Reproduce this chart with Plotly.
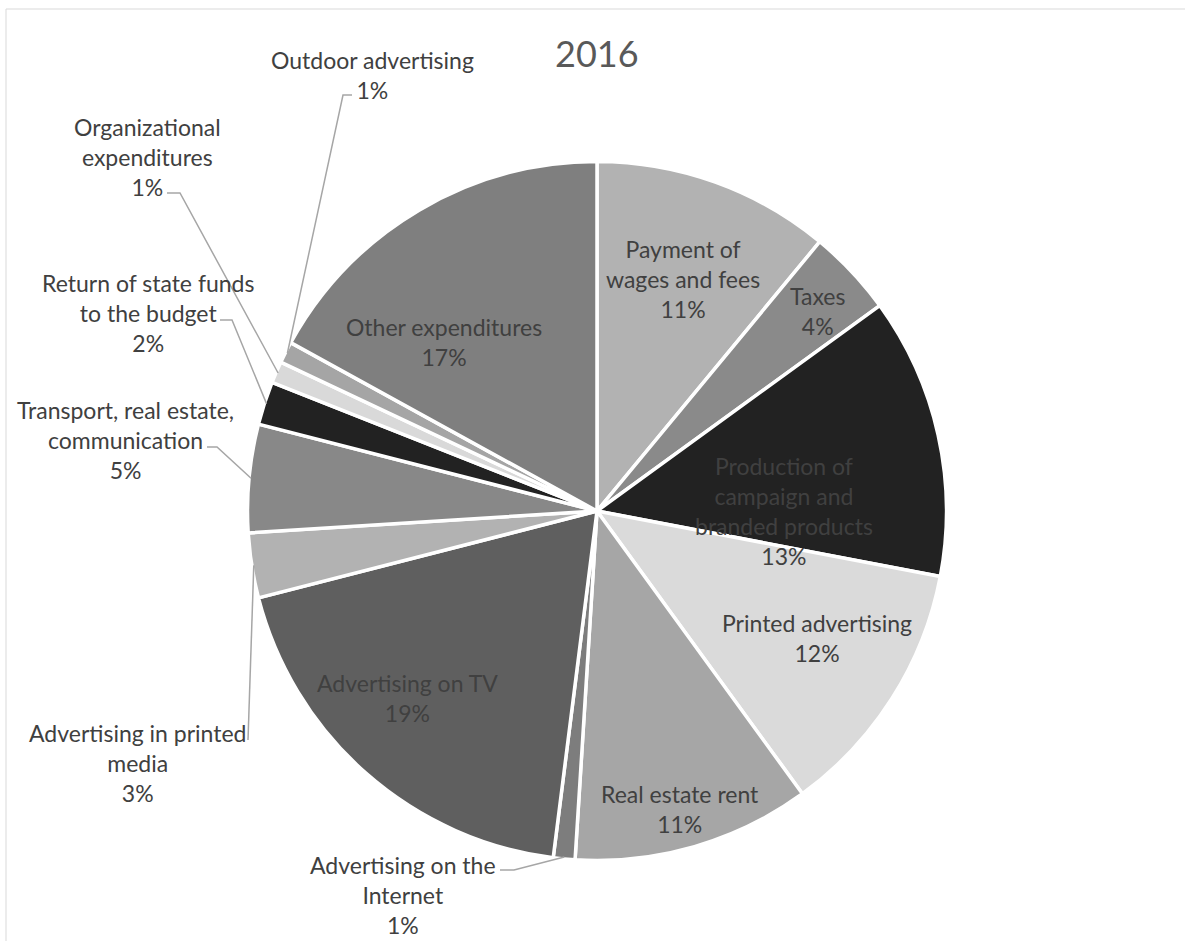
import math
import plotly.graph_objects as go

# Expenditure structure, 2016 (share of total, %)
categories = [
    "Payment of<br>wages and fees",
    "Taxes",
    "Production of<br>campaign and<br>branded products",
    "Printed advertising",
    "Real estate rent",
    "Advertising on the<br>Internet",
    "Advertising on TV",
    "Advertising in printed<br>media",
    "Transport, real estate,<br>communication",
    "Return of state funds<br>to the budget",
    "Organizational<br>expenditures",
    "Outdoor advertising",
    "Other expenditures",
]
shares = [11, 4, 13, 12, 11, 1, 19, 3, 5, 2, 1, 1, 17]
slice_colors = [
    "#b2b2b2", "#8a8a8a", "#222222", "#dadada", "#a6a6a6", "#7d7d7d",
    "#5f5f5f", "#b2b2b2", "#888888", "#222222", "#d9d9d9", "#a5a5a5", "#7f7f7f",
]

W, H = 1185, 941
CX, CY, R = 597, 511, 349.5  # pie centre and radius in pixels

# Label centres (px) for every slice, and leader-line elbows for outside labels
label_pos = [
    (683, 279), (817, 311), (784, 511), (817, 638), (680, 809), (403, 895),
    (407, 698), (138, 763), (125, 440), (148, 313), (147, 157), (372, 75), (444, 342),
]
leader = {
    5: [(514, 870), (500, 870)],
    7: [(248, 740)],
    8: [(217, 447), (207, 447)],
    9: [(232, 320), (220, 320)],
    10: [(180, 193), (167, 193)],
    11: [(343, 95), (352, 95)],
}


def px(x):
    return x / W


def py(y):
    return 1 - y / H


fig = go.Figure(
    go.Pie(
        labels=[c.replace("<br>", " ") for c in categories],
        values=shares,
        sort=False,
        direction="clockwise",
        rotation=0,
        marker=dict(colors=slice_colors, line=dict(color="white", width=3.5)),
        textinfo="none",
        hoverinfo="skip",
        showlegend=False,
        domain=dict(x=[px(CX - R), px(CX + R)], y=[py(CY + R), py(CY - R)]),
    )
)

total = sum(shares)
annotations = []
shapes = []
cum = 0
for i, (name, v) in enumerate(zip(categories, shares)):
    mid = (cum + v / 2) / total * 2 * math.pi
    cum += v
    pct = f"{round(v / total * 100)}%"
    lx, ly = label_pos[i]
    annotations.append(dict(
        x=px(lx), y=py(ly), xref="paper", yref="paper",
        text=f"{name}<br>{pct}", showarrow=False,
        xanchor="center", yanchor="middle", align="center",
        font=dict(family="Lato", size=23, color="#404040"),
    ))
    if i in leader:
        ex = CX + (R - 2) * math.sin(mid)
        ey = CY - (R - 2) * math.cos(mid)
        pts = [(ex, ey)] + leader[i]
        path = "M " + " L ".join(f"{px(a):.5f},{py(b):.5f}" for a, b in pts)
        shapes.append(dict(type="path", path=path, xref="paper", yref="paper",
                           line=dict(color="#a6a6a6", width=1.5)))

annotations.append(dict(
    x=px(597), y=py(53), xref="paper", yref="paper", text="2016",
    showarrow=False, xanchor="center", yanchor="middle",
    font=dict(family="Lato", size=36, color="#595959"),
))

# chart-area border
shapes.append(dict(type="rect", xref="paper", yref="paper",
                   x0=px(6), y0=py(9), x1=1.05, y1=-0.05,
                   line=dict(color="#d9d9d9", width=1)))

fig.update_layout(
    width=W, height=H,
    margin=dict(l=0, r=0, t=0, b=0),
    paper_bgcolor="white", plot_bgcolor="white",
    annotations=annotations, shapes=shapes,
)

fig.write_html("out.html")
